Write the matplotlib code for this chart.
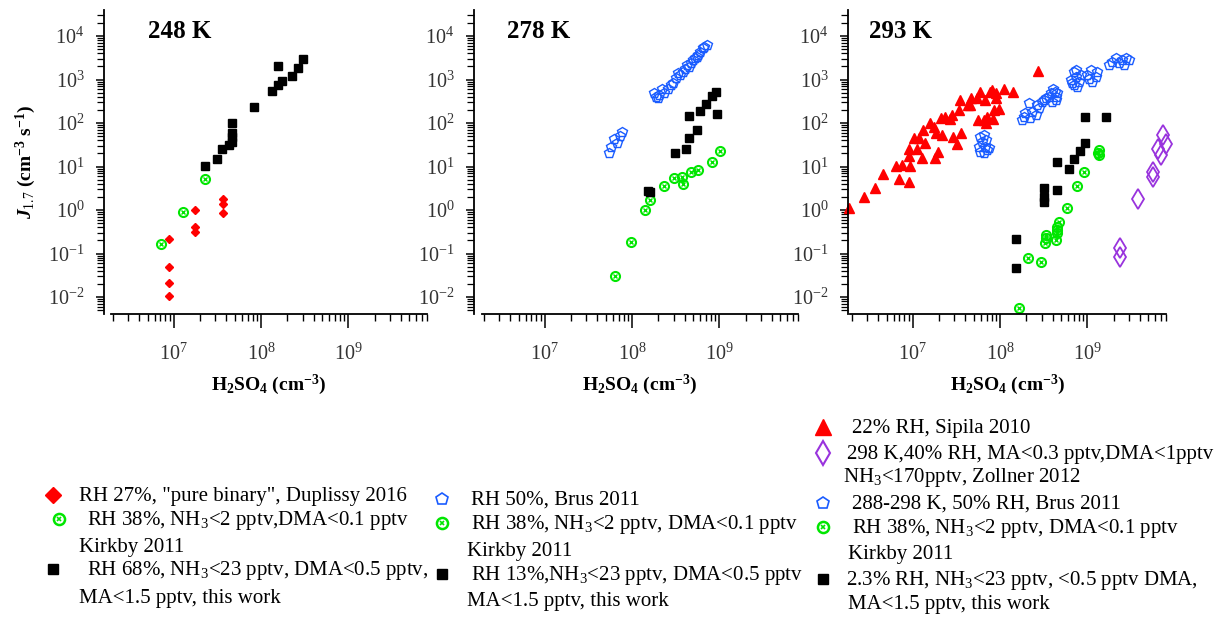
import numpy as np
import matplotlib
matplotlib.use("Agg")
import matplotlib.pyplot as plt
from matplotlib.lines import Line2D
from matplotlib.ticker import LogLocator, LogFormatterSciNotation, NullFormatter

plt.rcParams['font.family'] = ['Liberation Serif', 'DejaVu Serif']
plt.rcParams['mathtext.fontset'] = 'custom'
plt.rcParams['mathtext.rm'] = 'Liberation Serif'
plt.rcParams['mathtext.it'] = 'Liberation Serif:italic:bold'
plt.rcParams['mathtext.bf'] = 'Liberation Serif:bold'

# ---------------- data ----------------
panel_titles = ["248 K", "278 K", "293 K"]

# 248 K
b248_x = [2.3e7, 3.1e7, 3.6e7, 4.3e7, 4.7e7, 4.7e7, 4.7e7, 4.6e7, 8.2e7, 1.35e8, 1.55e8, 1.76e8, 1.58e8, 2.25e8, 2.65e8, 3.0e8]
b248_y = [10.5, 14.8, 26, 31, 36, 49, 58, 98, 230, 545, 735, 910, 2040, 1180, 1800, 2900]
g248_x = [7.2e6, 1.28e7, 2.26e7]
g248_y = [0.163, 0.885, 5.2]
r248_x = [8.9e6, 8.7e6, 8.7e6, 8.9e6, 1.76e7, 1.76e7, 1.76e7, 3.66e7, 3.66e7, 3.66e7]
r248_y = [0.215, 0.049, 0.0213, 0.0105, 1.0, 0.41, 0.31, 1.82, 1.40, 0.84]

# 278 K
p278_x = [5.37e7, 5.66e7, 6.18e7, 6.76e7, 7.18e7, 7.64e7,
          1.78e8, 1.89e8, 1.97e8, 2.06e8, 2.19e8, 2.31e8, 2.57e8, 2.8e8, 2.93e8, 3.2e8,
          3.4e8, 3.58e8, 3.81e8, 4.05e8, 4.27e8, 4.54e8, 4.74e8, 4.95e8, 5.27e8, 5.55e8,
          5.75e8, 6.07e8, 6.45e8, 6.74e8, 7.23e8]
p278_y = [20.8, 27.6, 42, 35, 50, 62,
          481, 403, 369, 441, 594, 498, 594, 748, 817, 1064,
          1387, 1270, 1514, 1714, 2153, 1972, 2355, 2805, 3070, 3350,
          3660, 4370, 5200, 5690, 6210]
b278_x = [1.53e8, 1.6e8, 3.13e8, 4.15e8, 4.53e8, 4.53e8, 5.55e8, 6.06e8, 7.03e8, 8.24e8, 9.16e8, 9.4e8]
b278_y = [2.7, 2.55, 20.4, 26, 46, 148, 71, 189, 269, 410, 525, 161]
g278_x = [6.35e7, 9.7e7, 1.42e8, 1.59e8, 2.34e8, 3.05e8, 3.73e8, 3.8e8, 4.73e8, 5.74e8, 8.2e8, 1.02e9]
g278_y = [0.0304, 0.18, 0.98, 1.67, 3.6, 5.5, 5.8, 4.0, 7.6, 8.3, 12.5, 22.7]

# 293 K
t293_x = [1.87e6, 2.78e6, 3.69e6, 4.6e6, 6.4e6, 7.0e6, 7.6e6, 9.1e6, 9.3e6, 9.1e6, 9.1e6,
          1.02e7, 1.11e7, 1.18e7, 1.27e7, 1.3e7, 1.39e7, 1.58e7, 1.76e7, 1.81e7, 1.84e7, 1.92e7,
          2.12e7, 2.15e7, 2.35e7, 2.69e7, 2.8e7, 2.88e7, 3.2e7, 3.35e7, 3.44e7, 3.56e7,
          4.25e7, 4.56e7, 4.68e7, 5.44e7, 5.59e7, 5.84e7, 6.49e7, 6.66e7, 6.9e7, 7.15e7,
          7.74e7, 8.09e7, 8.24e7, 8.6e7, 9.0e7, 9.0e7, 9.8e7, 1.1e8, 1.41e8, 2.73e8]
t293_y = [1.09, 2.0, 3.26, 6.7, 10.4, 5.07, 10.8, 4.5, 10.4, 17.4, 24.8,
          46, 24.8, 46, 15.4, 69, 35, 102, 82, 15.4, 58, 22,
          128, 53, 140, 121, 153, 48.5, 32.9, 199, 338, 60,
          259, 259, 369, 369, 117, 525, 117, 338, 98, 140,
          525, 574, 121, 199, 481, 369, 206, 594, 507, 1570]
d293_x = [2.37e9, 2.37e9, 3.82e9, 5.74e9, 5.74e9, 6.49e9, 6.96e9, 7.47e9, 8.1e9]
d293_y = [0.131, 0.0846, 1.79, 7.6, 5.8, 24.8, 18.4, 53, 32.9]
p293_x = [5.96e7, 6.5e7, 6.22e7, 6.92e7, 5.7e7, 6.79e7, 7.42e7, 5.96e7, 6.5e7, 7.1e7,
          1.79e8, 1.87e8, 1.95e8, 2.14e8, 2.23e8, 2.33e8, 2.55e8, 2.66e8, 2.79e8, 2.99e8,
          3.18e8, 3.38e8, 3.63e8, 3.79e8, 4.03e8, 4.25e8, 4.4e8, 4.52e8, 4.33e8, 3.96e8,
          6.44e8, 7.04e8, 7.36e8, 6.73e8, 7.69e8, 8.04e8, 8.4e8, 7.04e8, 7.49e8,
          1.0e9, 1.09e9, 1.14e9, 1.25e9, 1.3e9, 1.06e9,
          1.77e9, 1.94e9, 2.12e9, 2.31e9, 2.52e9, 2.76e9, 3.01e9, 2.64e9]
p293_y = [46.9, 53, 37, 40.6, 28.6, 28.6, 26.2, 21.9, 20, 23.9,
          117, 140, 167, 284, 128, 182, 153, 259, 218, 309,
          338, 369, 403, 482, 596, 525, 403, 482, 338, 309,
          975, 1510, 1160, 817, 684, 891, 1265, 748, 1650,
          1265, 1650, 891, 1160, 1510, 1010,
          2150, 2570, 3070, 2355, 2805, 3070, 2805, 2150]
b293_x = [1.54e8, 1.54e8, 3.18e8, 3.18e8, 3.18e8, 4.52e8, 4.52e8, 6.15e8, 7.03e8, 8.24e8, 9.3e8, 9.3e8, 1.63e9]
b293_y = [0.215, 0.0472, 3.26, 2.03, 1.5, 2.88, 12.9, 8.6, 14.6, 22.7, 34, 135, 135]
g293_x = [1.67e8, 2.08e8, 2.96e8, 3.32e8, 3.4e8, 3.28e8, 4.33e8, 4.45e8, 4.5e8, 4.5e8, 4.72e8,
          5.78e8, 7.67e8, 9.16e8, 1.36e9, 1.36e9, 1.34e9]
g293_y = [0.0055, 0.0774, 0.0649, 0.266, 0.223, 0.177, 0.204, 0.291, 0.347, 0.414, 0.54,
          1.09, 3.62, 7.6, 18.4, 23.9, 21.0]

xlim = (1.9e6, 8.0e9)
ylim = (4.07e-3, 3.98e4)

RED = '#ff0000'
GREEN = '#00e600'
BLUE = '#1a5cff'
PURPLE = '#9933dd'

W, H = 1226, 617
fig = plt.figure(figsize=(W / 100, H / 100), dpi=100)

lefts = [111, 482, 850]
outward = [5.0, 5.8, 1.5]
title_x = [0.117, 0.079, 0.06]
axes = []
for i in range(3):
    ax = fig.add_axes([lefts[i] / W, (H - 314) / H, 316 / W, 304 / H])
    ax.set_xscale('log')
    ax.set_yscale('log')
    ax.set_xlim(*xlim)
    ax.set_ylim(*ylim)
    for s in ['top', 'right']:
        ax.spines[s].set_visible(False)
    ax.spines['left'].set_position(('outward', outward[i]))
    for s in ['left', 'bottom']:
        ax.spines[s].set_linewidth(1.3)
    ax.xaxis.set_major_locator(LogLocator(base=10, numticks=20))
    ax.xaxis.set_minor_locator(LogLocator(base=10, subs=np.arange(2, 10), numticks=20))
    ax.yaxis.set_major_locator(LogLocator(base=10, numticks=20))
    ax.yaxis.set_minor_locator(LogLocator(base=10, subs=np.arange(2, 10), numticks=20))
    ax.xaxis.set_minor_formatter(NullFormatter())
    ax.yaxis.set_minor_formatter(NullFormatter())
    ax.tick_params(axis='x', which='major', direction='out', length=10, width=1.1, pad=11,
                   labelsize=14.5, labelcolor='#333333')
    ax.tick_params(axis='x', which='minor', direction='out', length=5, width=1.0)
    ax.tick_params(axis='y', which='major', direction='out', length=6, width=1.1, pad=8,
                   labelsize=14.5, labelcolor='#333333')
    ax.tick_params(axis='y', which='minor', direction='out', length=5, width=0.9)
    ax.text(title_x[i], 0.928, panel_titles[i], transform=ax.transAxes, fontsize=18,
            fontweight='bold', ha='left', va='center')
    ax.text(0.5, -0.234, r'H$_{\mathbf{2}}$SO$_{\mathbf{4}}$ (cm$^{\mathbf{-3}}$)',
            transform=ax.transAxes, fontsize=14, fontweight='bold', ha='center', va='center')
    axes.append(ax)


def circx(ax, x, y, ms=6.5, mew=1.5, **kw):
    ax.plot(x, y, linestyle='none', marker='o', ms=ms, mfc='none', mec=GREEN, mew=mew, clip_on=False, **kw)
    ax.plot(x, y, linestyle='none', marker='x', ms=ms * 0.35, mec=GREEN, mew=1.0, clip_on=False, **kw)


ax1, ax2, ax3 = axes
# 248 K
ax1.plot(r248_x, r248_y, 'D', color=RED, ms=4.5, linestyle='none')
circx(ax1, g248_x, g248_y)
ax1.plot(b248_x, b248_y, 's', color='black', ms=5.5, linestyle='none')

# 278 K
ax2.plot(p278_x, p278_y, 'p', mfc='none', mec=BLUE, mew=1.0, ms=7, linestyle='none')
circx(ax2, g278_x, g278_y)
ax2.plot(b278_x, b278_y, 's', color='black', ms=5.5, linestyle='none')

# 293 K
ax3.plot(t293_x, t293_y, '^', color=RED, ms=6.5, linestyle='none', clip_on=False)
ax3.plot(d293_x, d293_y, 'd', mfc='none', mec=PURPLE, mew=1.3, ms=10, linestyle='none', clip_on=False)
ax3.plot(p293_x, p293_y, 'p', mfc='none', mec=BLUE, mew=1.0, ms=7, linestyle='none')
circx(ax3, g293_x, g293_y)
ax3.plot(b293_x, b293_y, 's', color='black', ms=5.5, linestyle='none')

ax1.set_ylabel(r'$J_{\mathit{1.7}}$ (cm$^{\mathbf{-3}}$ s$^{\mathbf{-1}}$)', fontsize=14, fontweight='bold')
ax1.yaxis.set_label_coords(-0.232, 0.5)

# ---------------- manual legends ----------------
def fmark(x, y, **kw):
    fig.add_artist(Line2D([x / W], [1 - y / H], transform=fig.transFigure, linestyle='none', **kw))


def fcirc(x, y):
    fmark(x, y, marker='o', ms=8, mfc='none', mec=GREEN, mew=1.8)
    fmark(x, y, marker='x', ms=3, mec=GREEN, mew=1.2)


def ftxt(x, y, s):
    fig.text(x / W, 1 - (y + 6) / H, s, ha='left', va='baseline', fontsize=15)


# legend 1
fmark(53, 495, marker='D', ms=8, color=RED)
ftxt(79, 495, 'RH 27%, "pure binary", Duplissy 2016')
fcirc(59, 519)
ftxt(87, 519, r'RH 38%, NH$_3$<2 pptv,DMA<0.1 pptv')
ftxt(79, 546, 'Kirkby 2011')
fmark(53, 569, marker='s', ms=7, color='black')
ftxt(87, 569, r'RH 68%, NH$_3$<23 pptv, DMA<0.5 pptv,')
ftxt(79, 597, 'MA<1.5 pptv, this work')

# legend 2
fmark(442, 499, marker='p', ms=9, mfc='none', mec=BLUE, mew=1.2)
ftxt(471, 499, 'RH 50%, Brus 2011')
fcirc(442, 523)
ftxt(471, 523, r'RH 38%, NH$_3$<2 pptv, DMA<0.1 pptv')
ftxt(467, 550, 'Kirkby 2011')
fmark(442, 574, marker='s', ms=7, color='black')
ftxt(471, 574, r'RH 13%,NH$_3$<23 pptv, DMA<0.5 pptv')
ftxt(467, 600, 'MA<1.5 pptv, this work')

# legend 3
fmark(823, 427, marker='^', ms=12, color=RED)
ftxt(852, 427, '22% RH, Sipila 2010')
fmark(823, 453, marker='d', ms=12, mfc='none', mec=PURPLE, mew=1.5)
ftxt(847, 453, '298 K,40% RH, MA<0.3 pptv,DMA<1pptv')
ftxt(843, 476, r'NH$_3$<170pptv, Zollner 2012')
fmark(823, 503, marker='p', ms=9, mfc='none', mec=BLUE, mew=1.2)
ftxt(852, 503, '288-298 K, 50% RH, Brus 2011')
fcirc(823, 527)
ftxt(852, 527, r'RH 38%, NH$_3$<2 pptv, DMA<0.1 pptv')
ftxt(848, 553, 'Kirkby 2011')
fmark(823, 579, marker='s', ms=7, color='black')
ftxt(846, 579, r'2.3% RH, NH$_3$<23 pptv, <0.5 pptv DMA,')
ftxt(848, 603, 'MA<1.5 pptv, this work')

fig.savefig('out.png', dpi=100)
